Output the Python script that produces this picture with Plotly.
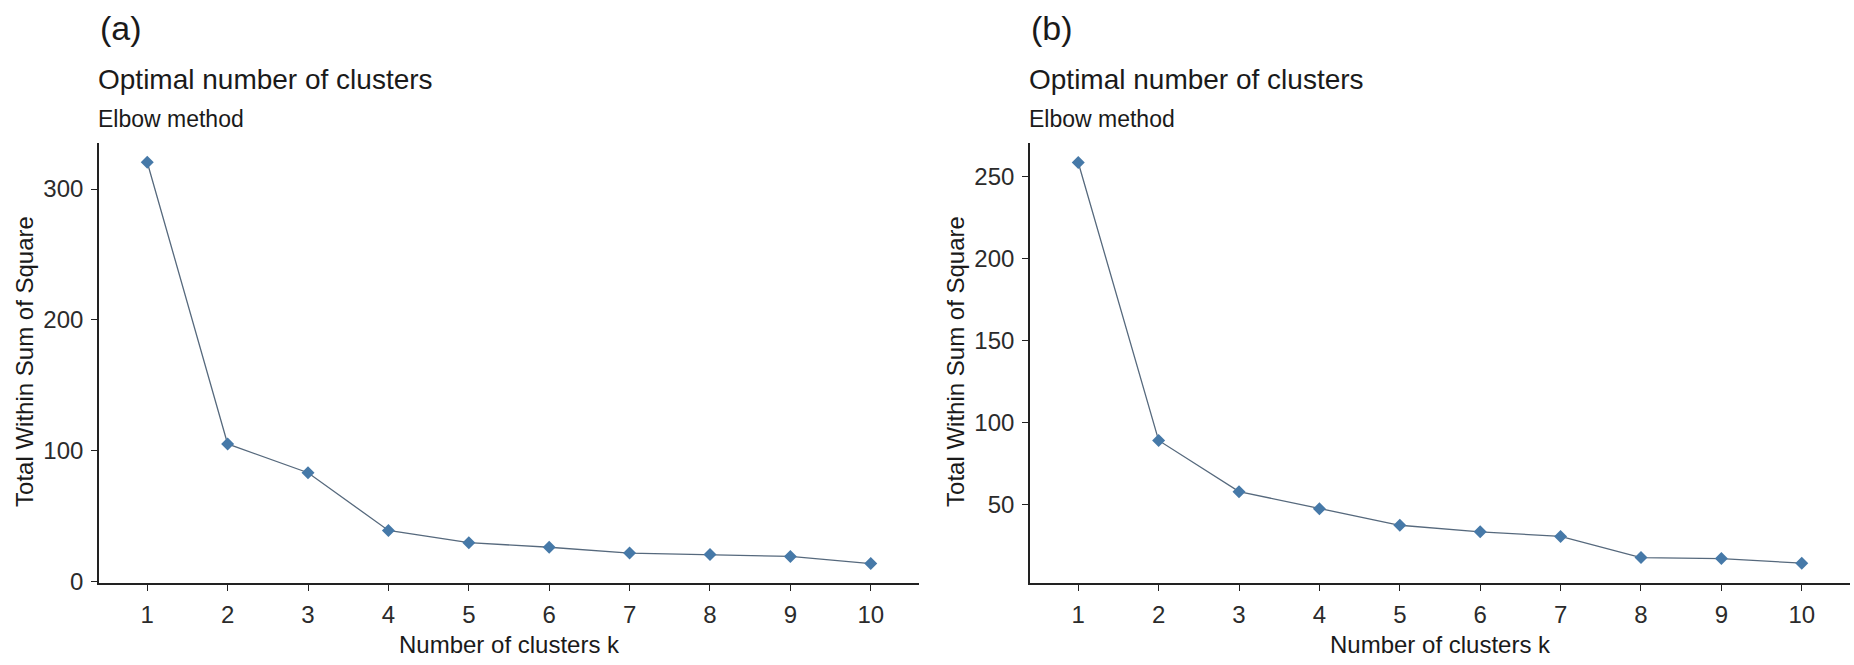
import plotly.graph_objects as go

# Elbow-method results for two data sets
k_values = [1, 2, 3, 4, 5, 6, 7, 8, 9, 10]
wss_a = [320.5, 105, 83, 38.8, 29.5, 26, 21.5, 20.5, 19, 13.5]
wss_b = [258.4, 89, 57.8, 47.4, 37.3, 33.3, 30.5, 17.6, 17.0, 14.2]

yticks_a = [0, 100, 200, 300]
yticks_b = [50, 100, 150, 200, 250]

W, H = 1854, 665
FONT = "Liberation Sans, Arial, sans-serif"
TXT = "#1a1a1a"
LINE_COL = "#56697d"
POINT_COL = "#4679a8"

fig = go.Figure()

panels = [
    dict(x="x", y="y", vals=wss_a, x0=99, x1=919, yr=[-1.5, 335.5], yt=yticks_a,
         tag="(a)", ytitle_x=25),
    dict(x="x2", y="y2", vals=wss_b, x0=1030, x1=1850, yr=[2.0, 270.5], yt=yticks_b,
         tag="(b)", ytitle_x=956),
]

top_px, bot_px = 145, 593


def px_x(p):
    return p / W


def px_y(p):
    return 1 - p / H


annotations = []
for i, p in enumerate(panels):
    fig.add_trace(go.Scatter(
        x=k_values, y=p["vals"], xaxis=p["x"], yaxis=p["y"],
        mode="lines+markers",
        line=dict(color=LINE_COL, width=1.3),
        marker=dict(symbol="diamond", size=10, color=POINT_COL),
        showlegend=False, hoverinfo="x+y",
    ))
    sfx = "" if i == 0 else str(i + 1)
    axis_common = dict(
        showline=True, linecolor="#222222", linewidth=1.6,
        ticks="outside", ticklen=6, tickwidth=1.4, tickcolor="#222222",
        showgrid=False, zeroline=False,
        tickfont=dict(family=FONT, size=24, color="#2b2b2b"),
    )
    fig.update_layout({
        "xaxis" + sfx: dict(
            domain=[px_x(p["x0"]), px_x(p["x1"])],
            range=[0.4, 10.6], tickmode="array", tickvals=k_values,
            ticktext=[str(k) for k in k_values],
            anchor="y" + sfx, ticklabelstandoff=3, **axis_common),
        "yaxis" + sfx: dict(
            domain=[px_y(bot_px), px_y(top_px)],
            range=p["yr"], tickmode="array", tickvals=p["yt"],
            anchor="x" + sfx, ticklabelstandoff=3, **axis_common),
    })
    cx = (p["x0"] + p["x1"]) / 2
    annotations += [
        dict(text=p["tag"], x=px_x(p["x0"] + 1), y=px_y(28), xanchor="left",
             yanchor="middle", font=dict(family=FONT, size=34, color=TXT)),
        dict(text="Optimal number of clusters", x=px_x(p["x0"] - 1), y=px_y(81),
             xanchor="left", yanchor="middle",
             font=dict(family=FONT, size=28, color=TXT)),
        dict(text="Elbow method", x=px_x(p["x0"] - 1), y=px_y(121),
             xanchor="left", yanchor="middle",
             font=dict(family=FONT, size=23, color=TXT)),
        dict(text="Number of clusters k", x=px_x(cx), y=px_y(655),
             xanchor="center", yanchor="middle",
             font=dict(family=FONT, size=24, color=TXT)),
        dict(text="Total Within Sum of Square", x=px_x(p["ytitle_x"]),
             y=px_y((top_px + bot_px) / 2 - 1), textangle=-90,
             xanchor="center", yanchor="middle",
             font=dict(family=FONT, size=24, color=TXT)),
    ]

for a in annotations:
    a.update(xref="paper", yref="paper", showarrow=False, borderpad=0, borderwidth=0)

fig.update_layout(
    width=W, height=H,
    margin=dict(l=0, r=0, t=0, b=0),
    paper_bgcolor="white", plot_bgcolor="white",
    annotations=annotations,
)

fig.write_html("out.html")
